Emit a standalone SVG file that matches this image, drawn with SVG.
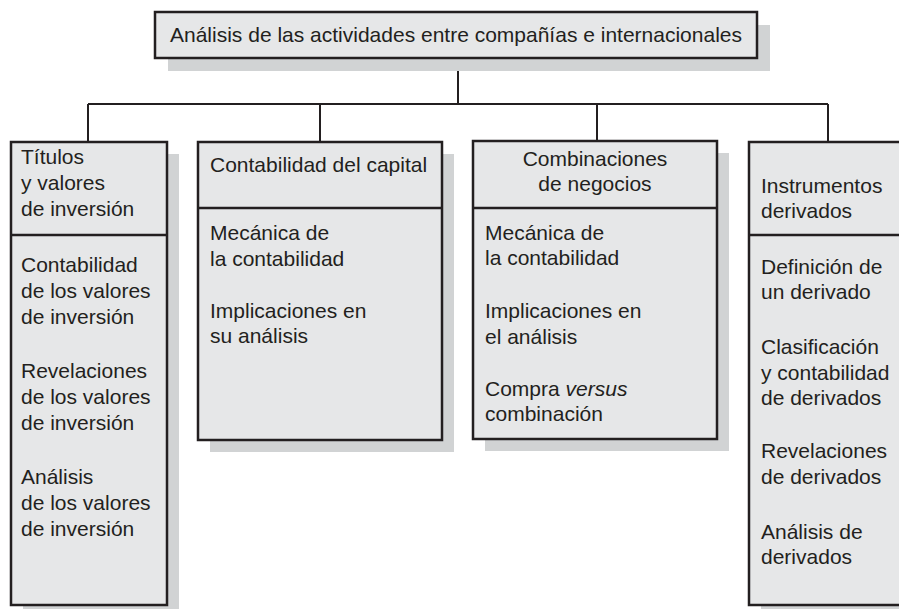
<svg xmlns="http://www.w3.org/2000/svg" width="899" height="609" viewBox="0 0 899 609">
<style>
.box{fill:#e6e7e8;stroke:#231f20;stroke-width:2.5}
.shadow{fill:#d1d3d4}
.div{stroke:#231f20;stroke-width:2.5}
.conn{stroke:#231f20;stroke-width:2;fill:none}
text{font-family:"Liberation Sans",Arial,sans-serif;font-size:21px;fill:#231f20}
.c{text-anchor:middle}
</style>
<rect width="899" height="609" fill="#ffffff"/>
<g id="connectors">
<path class="conn" d="M458 58 V104 M88 104 H828 M88 104 V142 M320 104 V142 M597 104 V141 M828 104 V142"/>
</g>
<g id="root">
<rect class="shadow" x="168" y="25" width="602" height="46"/>
<rect class="box" x="155" y="12" width="602" height="46"/>
<text class="c" x="456" y="42">Análisis de las actividades entre compañías e internacionales</text>
</g>
<g id="titulos">
<rect class="shadow" x="23" y="154" width="156" height="463"/>
<rect class="box" x="11" y="142" width="156" height="463"/>
<line class="div" x1="11" y1="235" x2="167" y2="235"/>
<text x="21" y="164">Títulos</text>
<text x="21" y="190">y valores</text>
<text x="21" y="216">de inversión</text>
<text x="21" y="272">Contabilidad</text>
<text x="21" y="298">de los valores</text>
<text x="21" y="324">de inversión</text>
<text x="21" y="378">Revelaciones</text>
<text x="21" y="404">de los valores</text>
<text x="21" y="430">de inversión</text>
<text x="21" y="484">Análisis</text>
<text x="21" y="510">de los valores</text>
<text x="21" y="536">de inversión</text>
</g>
<g id="capital">
<rect class="shadow" x="210" y="154" width="244" height="298"/>
<rect class="box" x="198" y="142" width="244" height="298"/>
<line class="div" x1="198" y1="208" x2="442" y2="208"/>
<text x="210" y="172">Contabilidad del capital</text>
<text x="210" y="240">Mecánica de</text>
<text x="210" y="266">la contabilidad</text>
<text x="210" y="318">Implicaciones en</text>
<text x="210" y="343">su análisis</text>
</g>
<g id="combinaciones">
<rect class="shadow" x="485" y="153" width="244" height="298"/>
<rect class="box" x="473" y="141" width="244" height="298"/>
<line class="div" x1="473" y1="208" x2="717" y2="208"/>
<text class="c" x="595" y="166">Combinaciones</text>
<text class="c" x="595" y="191">de negocios</text>
<text x="485" y="240">Mecánica de</text>
<text x="485" y="265">la contabilidad</text>
<text x="485" y="318">Implicaciones en</text>
<text x="485" y="344">el análisis</text>
<text x="485" y="396">Compra <tspan font-style="italic">versus</tspan></text>
<text x="485" y="421">combinación</text>
</g>
<g id="derivados">
<rect class="shadow" x="761" y="154" width="160" height="463"/>
<rect class="box" x="749" y="142" width="160" height="463"/>
<line class="div" x1="749" y1="235" x2="909" y2="235"/>
<text x="761" y="193">Instrumentos</text>
<text x="761" y="218">derivados</text>
<text x="761" y="274">Definición de</text>
<text x="761" y="299">un derivado</text>
<text x="761" y="354">Clasificación</text>
<text x="761" y="380">y contabilidad</text>
<text x="761" y="405">de derivados</text>
<text x="761" y="458">Revelaciones</text>
<text x="761" y="484">de derivados</text>
<text x="761" y="539">Análisis de</text>
<text x="761" y="564">derivados</text>
</g>
</svg>
